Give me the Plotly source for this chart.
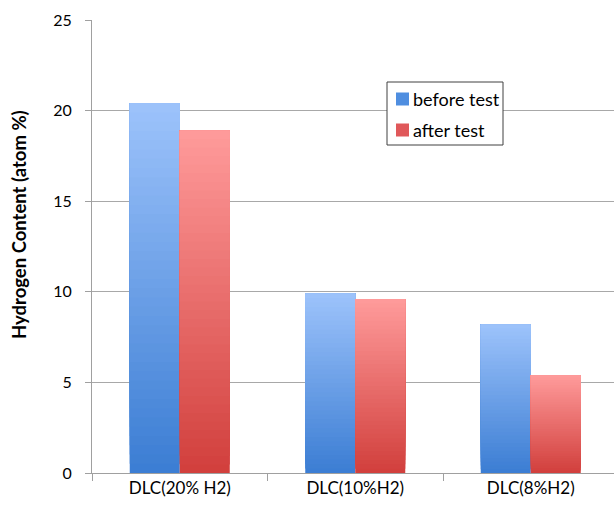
import plotly.graph_objects as go

categories = ["DLC(20% H2)", "DLC(10%H2)", "DLC(8%H2)"]
before_test = [20.4, 9.9, 8.2]
after_test = [18.9, 9.6, 5.4]
series_names = ["before test", "after test"]
y_ticks = [0, 5, 10, 15, 20, 25]
y_title = "Hydrogen Content (atom %)"

# gradient colours (top, bottom) and legend swatch colour
grad = {
    "before test": ((157, 195, 251), (59, 125, 211)),
    "after test": ((255, 155, 155), (209, 63, 60)),
}
swatch = {"before test": "#4f8ee0", "after test": "#e0585a"}

N = 40
cat_px = 175.5
bar_w = 50 / cat_px

fig = go.Figure()
for si, (name, vals) in enumerate(zip(series_names, [before_test, after_test])):
    top, bot = grad[name]
    for i in range(N):
        t = (i + 0.5) / N  # 0 bottom -> 1 top
        c = tuple(round(bot[k] + (top[k] - bot[k]) * t) for k in range(3))
        col = "rgb(%d,%d,%d)" % c
        fig.add_trace(go.Bar(
            x=categories,
            y=[v * (N - i) / N for v in vals],
            base=[v * i / N for v in vals],
            width=bar_w,
            offset=-bar_w if si == 0 else 0,
            marker=dict(color=col, line=dict(width=0)),
            name=name,
            showlegend=False,
            hoverinfo="skip",
        ))

font_family = "Lato, 'Open Sans', sans-serif"

PX0, PX1, PY0, PY1 = 92, 614, 473, 20
def px(x):
    return (x - PX0) / (PX1 - PX0)
def py(y):
    return (PY0 - y) / (PY0 - PY1)

shapes = [dict(type="rect", xref="paper", yref="paper",
               x0=px(387), x1=px(503), y0=py(145), y1=py(82),
               fillcolor="white", line=dict(color="#404040", width=1), layer="above")]
annotations = []
for j, name in enumerate(series_names):
    cy = 99 + j * 31
    shapes.append(dict(type="rect", xref="paper", yref="paper",
                       x0=px(396), x1=px(409), y0=py(cy + 6.5), y1=py(cy - 6.5),
                       fillcolor=swatch[name], line=dict(width=0), layer="above"))
    annotations.append(dict(text=name, xref="paper", yref="paper",
                            x=px(411), y=py(cy), xanchor="left", yanchor="middle",
                            showarrow=False, font=dict(size=18, family=font_family, color="black")))

annotations.append(dict(text="<b>%s</b>" % y_title, xref="paper", yref="paper",
                        x=px(19), y=py(225), xanchor="center", yanchor="middle",
                        textangle=-90, showarrow=False,
                        font=dict(size=18.5, family=font_family, color="black")))

fig.update_layout(
    width=614, height=507,
    margin=dict(l=92, r=0, t=20, b=34),
    barmode="overlay",
    plot_bgcolor="white",
    paper_bgcolor="white",
    showlegend=False,
    font=dict(family=font_family, size=15, color="black"),
    shapes=shapes,
    annotations=annotations,
    xaxis=dict(
        type="category",
        range=[-0.5, -0.5 + (PX1 - PX0) / cat_px],
        showgrid=False,
        showline=True, linecolor="#a0a0a0", linewidth=1,
        ticks="outside", tickson="boundaries", ticklen=7, tickcolor="#a0a0a0",
        tickfont=dict(size=17),
    ),
    yaxis=dict(
        range=[0, 25],
        tickvals=y_ticks,
        showgrid=True, gridcolor="#a8a8a8", gridwidth=1,
        showline=True, linecolor="#a0a0a0", linewidth=1,
        ticks="outside", ticklen=6, tickcolor="#a0a0a0",
        ticklabelstandoff=10,
        tickfont=dict(size=16),
        zeroline=False,
    ),
)

fig.write_html("out.html")
